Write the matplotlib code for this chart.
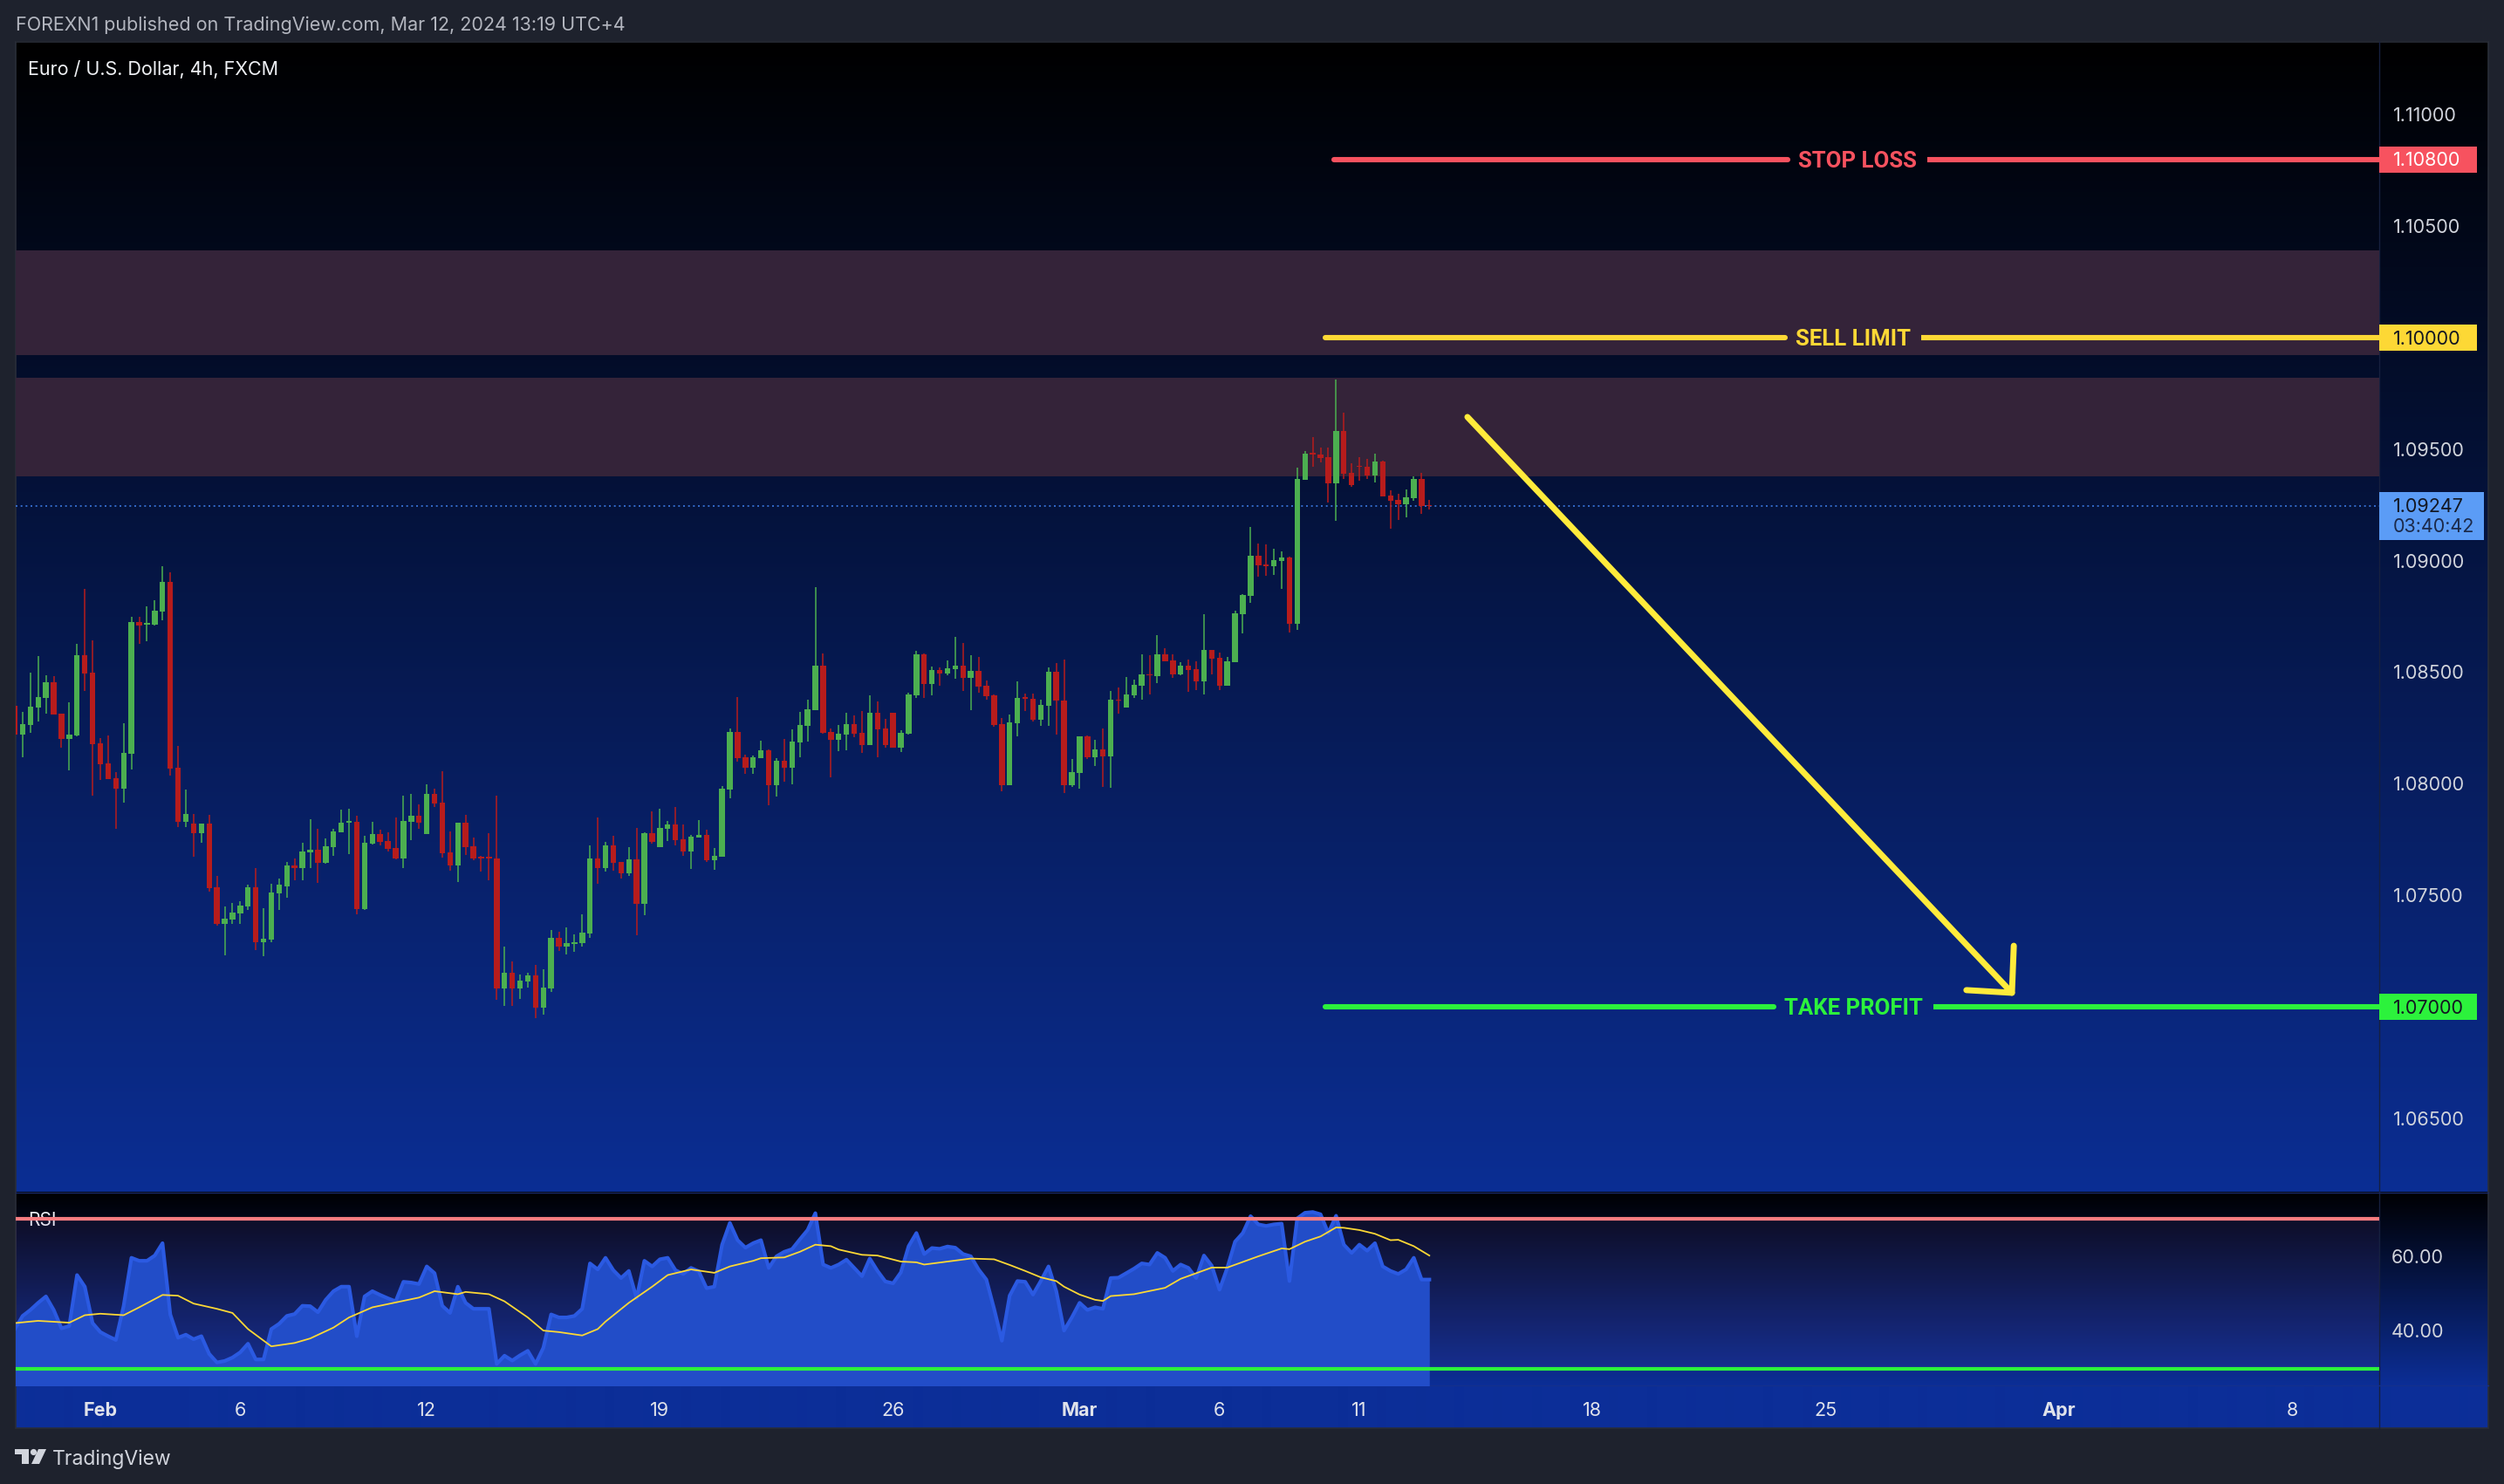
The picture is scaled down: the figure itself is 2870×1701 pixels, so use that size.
import numpy as np
import matplotlib
matplotlib.use('Agg')
import matplotlib.pyplot as plt
from matplotlib.patches import Rectangle, Polygon, Circle
from matplotlib.transforms import blended_transform_factory, offset_copy
from matplotlib import font_manager

# ---------------------------------------------------------------- data
# 4h bars, index 0 = first bar of Feb 1 2024 (weekends skipped, 6 bars/day)
bar_index = list(range(-11, 172))

opens = [
    1.08351, 1.08223, 1.08266, 1.08345, 1.08388, 1.08457, 1.08316, 1.08204, 1.08219, 1.08578, 1.08500,
    1.08183, 1.08093, 1.08026, 1.07981, 1.08137, 1.08727, 1.08716, 1.08715, 1.08774, 1.08907,
    1.08073, 1.07832, 1.07824, 1.07781, 1.07824, 1.07539, 1.07374, 1.07394, 1.07421, 1.07452,
    1.07539, 1.07292, 1.07304, 1.07511, 1.07543, 1.07636, 1.07625, 1.07695, 1.07707, 1.07648,
    1.07719, 1.07785, 1.07828, 1.07832, 1.07441, 1.07734, 1.07777, 1.07746, 1.07715, 1.07668,
    1.07832, 1.07859, 1.07777, 1.07957, 1.07918, 1.07695, 1.07636, 1.07828, 1.07722, 1.07672,
    1.07672, 1.07666, 1.07085, 1.07154, 1.07085, 1.07115, 1.07142, 1.06999, 1.07085, 1.07310,
    1.07271, 1.07283, 1.07287, 1.07330, 1.07666, 1.07623, 1.07725, 1.07651, 1.07600, 1.07662,
    1.07463, 1.07780, 1.07717, 1.07800, 1.07819, 1.07752, 1.07698, 1.07760, 1.07771, 1.07659,
    1.07674, 1.07975, 1.08234, 1.08120, 1.08075, 1.08117, 1.08152, 1.07996, 1.08104, 1.08075,
    1.08188, 1.08262, 1.08333, 1.08530, 1.08234, 1.08200, 1.08223, 1.08268, 1.08230, 1.08173,
    1.08319, 1.08249, 1.08319, 1.08165, 1.08225, 1.08397, 1.08581, 1.08450, 1.08511, 1.08497,
    1.08517, 1.08530, 1.08478, 1.08508, 1.08441, 1.08397, 1.08268, 1.07996, 1.08273, 1.08387,
    1.08382, 1.08288, 1.08352, 1.08503, 1.08376, 1.07996, 1.08050, 1.08214, 1.08120, 1.08155,
    1.08125, 1.08378, 1.08345, 1.08397, 1.08442, 1.08491, 1.08485, 1.08581, 1.08554, 1.08493,
    1.08530, 1.08516, 1.08462, 1.08601, 1.08566, 1.08439, 1.08548, 1.08762, 1.08845, 1.09024,
    1.08986, 1.08978, 1.09002, 1.09016, 1.08720, 1.09364, 1.09482, 1.09478, 1.09466, 1.09349,
    1.09583, 1.09396, 1.09427, 1.09423, 1.09384, 1.09446, 1.09294, 1.09274, 1.09255, 1.09282,
    1.09368, 1.09248,
]
highs = [
    1.08370, 1.08324, 1.08500, 1.08574, 1.08488, 1.08484, 1.08316, 1.08367, 1.08629, 1.08875, 1.08644,
    1.08206, 1.08218, 1.08054, 1.08273, 1.08750, 1.08750, 1.08797, 1.08824, 1.08977, 1.08950,
    1.08171, 1.07975, 1.07866, 1.07824, 1.07863, 1.07588, 1.07452, 1.07468, 1.07476, 1.07547,
    1.07625, 1.07445, 1.07554, 1.07578, 1.07652, 1.07668, 1.07738, 1.07844, 1.07801, 1.07758,
    1.07801, 1.07887, 1.07891, 1.07859, 1.07769, 1.07832, 1.07797, 1.07785, 1.07852, 1.07949,
    1.07957, 1.07910, 1.08000, 1.07981, 1.08059, 1.07789, 1.07828, 1.07863, 1.07762, 1.07680,
    1.07781, 1.07949, 1.07271, 1.07205, 1.07146, 1.07154, 1.07189, 1.07170, 1.07345, 1.07338,
    1.07357, 1.07326, 1.07416, 1.07725, 1.07850, 1.07741, 1.07768, 1.07651, 1.07717, 1.07803,
    1.07783, 1.07878, 1.07890, 1.07833, 1.07897, 1.07818, 1.07770, 1.07839, 1.07794, 1.07713,
    1.07990, 1.08249, 1.08390, 1.08132, 1.08128, 1.08195, 1.08156, 1.08116, 1.08203, 1.08246,
    1.08324, 1.08378, 1.08882, 1.08586, 1.08249, 1.08265, 1.08318, 1.08307, 1.08327, 1.08397,
    1.08370, 1.08294, 1.08319, 1.08242, 1.08408, 1.08598, 1.08587, 1.08528, 1.08522, 1.08556,
    1.08661, 1.08632, 1.08578, 1.08569, 1.08465, 1.08402, 1.08297, 1.08312, 1.08460, 1.08406,
    1.08406, 1.08378, 1.08523, 1.08542, 1.08559, 1.08113, 1.08214, 1.08217, 1.08198, 1.08249,
    1.08418, 1.08433, 1.08480, 1.08468, 1.08581, 1.08578, 1.08668, 1.08610, 1.08581, 1.08547,
    1.08559, 1.08549, 1.08761, 1.08601, 1.08589, 1.08569, 1.08776, 1.08852, 1.09153, 1.09079,
    1.09075, 1.09055, 1.09044, 1.09020, 1.09419, 1.09493, 1.09556, 1.09509, 1.09509, 1.09814,
    1.09666, 1.09439, 1.09466, 1.09458, 1.09482, 1.09450, 1.09317, 1.09302, 1.09321, 1.09380,
    1.09396, 1.09274,
]
lows = [
    1.08200, 1.08121, 1.08230, 1.08282, 1.08317, 1.08313, 1.08165, 1.08063, 1.08214, 1.08419, 1.07949,
    1.08020, 1.08024, 1.07801, 1.07918, 1.08067, 1.08630, 1.08641, 1.08711, 1.08734, 1.08039,
    1.07809, 1.07809, 1.07676, 1.07738, 1.07519, 1.07367, 1.07233, 1.07371, 1.07374, 1.07437,
    1.07257, 1.07230, 1.07292, 1.07437, 1.07492, 1.07570, 1.07570, 1.07625, 1.07558, 1.07644,
    1.07680, 1.07785, 1.07687, 1.07417, 1.07437, 1.07730, 1.07726, 1.07699, 1.07664, 1.07625,
    1.07750, 1.07801, 1.07777, 1.07898, 1.07672, 1.07613, 1.07562, 1.07683, 1.07660, 1.07609,
    1.07570, 1.07034, 1.07006, 1.07006, 1.07038, 1.07089, 1.06952, 1.06967, 1.07069, 1.07252,
    1.07236, 1.07248, 1.07271, 1.07310, 1.07553, 1.07608, 1.07612, 1.07576, 1.07588, 1.07322,
    1.07412, 1.07731, 1.07717, 1.07743, 1.07725, 1.07680, 1.07619, 1.07760, 1.07650, 1.07616,
    1.07674, 1.07936, 1.08102, 1.08047, 1.08047, 1.08117, 1.07903, 1.07944, 1.08012, 1.08000,
    1.08122, 1.08192, 1.08333, 1.08225, 1.08032, 1.08149, 1.08152, 1.08212, 1.08141, 1.08173,
    1.08122, 1.08165, 1.08165, 1.08144, 1.08222, 1.08387, 1.08388, 1.08399, 1.08439, 1.08486,
    1.08474, 1.08418, 1.08331, 1.08409, 1.08379, 1.08258, 1.07967, 1.07996, 1.08215, 1.08327,
    1.08280, 1.08262, 1.08262, 1.08222, 1.07960, 1.07987, 1.07979, 1.08114, 1.08081, 1.07987,
    1.07982, 1.08316, 1.08345, 1.08388, 1.08379, 1.08403, 1.08454, 1.08550, 1.08477, 1.08486,
    1.08414, 1.08423, 1.08403, 1.08493, 1.08423, 1.08439, 1.08548, 1.08677, 1.08813, 1.08931,
    1.08935, 1.08938, 1.08875, 1.08681, 1.08693, 1.09364, 1.09424, 1.09443, 1.09263, 1.09180,
    1.09368, 1.09333, 1.09360, 1.09368, 1.09353, 1.09290, 1.09145, 1.09184, 1.09196, 1.09270,
    1.09212, 1.09231,
]
closes = [
    1.08223, 1.08269, 1.08347, 1.08390, 1.08457, 1.08313, 1.08204, 1.08222, 1.08578, 1.08497, 1.08180,
    1.08090, 1.08024, 1.07981, 1.08140, 1.08727, 1.08711, 1.08719, 1.08777, 1.08907, 1.08071,
    1.07832, 1.07866, 1.07781, 1.07824, 1.07535, 1.07374, 1.07398, 1.07425, 1.07456, 1.07539,
    1.07292, 1.07308, 1.07515, 1.07547, 1.07636, 1.07625, 1.07699, 1.07707, 1.07648, 1.07722,
    1.07789, 1.07828, 1.07832, 1.07441, 1.07738, 1.07777, 1.07742, 1.07711, 1.07668, 1.07836,
    1.07859, 1.07828, 1.07957, 1.07914, 1.07691, 1.07636, 1.07828, 1.07719, 1.07668, 1.07668,
    1.07668, 1.07085, 1.07154, 1.07085, 1.07119, 1.07142, 1.06999, 1.07087, 1.07310, 1.07271,
    1.07287, 1.07291, 1.07334, 1.07666, 1.07623, 1.07725, 1.07647, 1.07600, 1.07662, 1.07463,
    1.07780, 1.07741, 1.07803, 1.07819, 1.07750, 1.07698, 1.07765, 1.07771, 1.07659, 1.07678,
    1.07979, 1.08234, 1.08117, 1.08075, 1.08120, 1.08152, 1.07996, 1.08104, 1.08075, 1.08191,
    1.08265, 1.08336, 1.08530, 1.08230, 1.08200, 1.08225, 1.08268, 1.08227, 1.08173, 1.08319,
    1.08247, 1.08173, 1.08165, 1.08230, 1.08402, 1.08581, 1.08450, 1.08511, 1.08497, 1.08520,
    1.08530, 1.08478, 1.08508, 1.08438, 1.08394, 1.08265, 1.07996, 1.08276, 1.08387, 1.08384,
    1.08288, 1.08355, 1.08503, 1.08376, 1.07996, 1.08053, 1.08214, 1.08120, 1.08155, 1.08125,
    1.08378, 1.08375, 1.08402, 1.08445, 1.08491, 1.08487, 1.08581, 1.08550, 1.08493, 1.08530,
    1.08513, 1.08462, 1.08601, 1.08563, 1.08439, 1.08550, 1.08765, 1.08848, 1.09024, 1.08981,
    1.08978, 1.09004, 1.09016, 1.08720, 1.09368, 1.09482, 1.09479, 1.09462, 1.09349, 1.09583,
    1.09392, 1.09341, 1.09423, 1.09384, 1.09446, 1.09290, 1.09270, 1.09255, 1.09286, 1.09368,
    1.09246, 1.09247,
]

rsi_values = [
    40.6, 44.1, 45.7, 47.6, 49.3, 45.7, 40.8, 41.4, 55.0, 51.9, 42.2,
    39.8, 38.7, 37.7, 46.8, 59.6, 58.8, 58.8, 60.2, 63.5, 44.5,
    38.3, 39.1, 37.9, 38.7, 34.0, 31.7, 32.1, 33.0, 34.4, 36.7,
    32.5, 32.5, 40.6, 42.0, 44.1, 44.6, 46.8, 46.7, 45.1, 48.4,
    50.7, 51.9, 51.9, 38.7, 49.3, 50.7, 49.7, 48.8, 48.0, 53.2,
    53.0, 52.6, 57.3, 55.5, 46.8, 44.9, 51.9, 47.6, 46.0, 46.0,
    46.0, 31.3, 33.5, 32.2, 33.6, 34.8, 31.3, 35.6, 44.5, 43.7,
    43.7, 44.1, 46.0, 58.1, 56.5, 59.6, 56.3, 54.2, 56.1, 48.8,
    58.8, 57.3, 59.2, 59.6, 56.3, 55.3, 56.9, 56.0, 51.5, 51.9,
    63.1, 68.9, 64.3, 62.3, 63.5, 64.3, 56.9, 60.0, 61.2, 61.9,
    64.5, 67.0, 71.5, 57.8, 56.9, 57.8, 59.1, 56.9, 54.7, 59.4,
    56.1, 53.3, 52.8, 55.7, 62.7, 66.2, 60.6, 62.2, 62.0, 62.6,
    62.3, 60.6, 60.0, 56.5, 53.8, 46.0, 37.5, 49.5, 53.4, 53.2,
    49.8, 53.4, 57.3, 50.7, 40.2, 43.7, 47.6, 45.7, 46.4, 46.0,
    54.2, 54.3, 55.5, 56.7, 58.1, 57.8, 60.9, 59.6, 56.1, 57.8,
    56.9, 54.2, 60.2, 57.5, 51.1, 56.9, 63.9, 66.2, 70.7, 68.5,
    68.1, 68.5, 68.7, 53.4, 70.1, 71.6, 71.8, 71.2, 66.2, 70.8,
    63.1, 60.9, 63.1, 61.5, 63.5, 57.3, 56.1, 55.3, 56.5, 59.6,
    53.8, 53.8,
]

rsi_ma_index = [-11, -8, -4, -2, 0, 3, 5, 8, 10, 12, 15, 17, 19, 22, 25, 27, 30, 32, 35,
                38, 41, 43, 46, 47, 50, 52, 55, 57, 59, 62, 64, 65, 68, 71, 73, 76, 79,
                81, 84, 85, 88, 90, 92, 94, 95, 98, 100, 103, 105, 106, 109, 112, 115,
                117, 119, 121, 123, 124, 126, 128, 129, 130, 133, 137, 139, 141, 143,
                145, 149, 152, 153, 155, 157, 159, 160, 162, 164, 166, 167, 169, 171]
rsi_ma_values = [42.2, 42.8, 42.3, 44.3, 44.7, 44.3, 46.4, 49.7, 49.5, 47.4, 46.0, 44.9,
                 40.6, 36.0, 36.9, 38.1, 41.0, 43.7, 46.4, 47.7, 49.0, 50.7, 49.9, 50.5,
                 49.9, 48.0, 43.7, 40.2, 39.8, 38.9, 40.6, 42.6, 47.6, 51.9, 55.0, 56.5,
                 55.6, 57.3, 58.8, 59.5, 59.7, 61.2, 63.1, 62.7, 61.8, 60.4, 60.2, 58.6,
                 58.4, 57.8, 58.6, 59.4, 59.2, 57.7, 56.1, 54.4, 53.4, 51.9, 49.8, 48.4,
                 48.1, 49.4, 49.9, 51.6, 54.0, 55.5, 57.0, 57.0, 60.0, 62.1, 61.9, 63.9,
                 65.3, 67.7, 67.6, 67.0, 66.0, 64.3, 64.4, 62.7, 60.2]

date_tick_index = [0, 18, 42, 72, 102, 126, 144, 162, 192, 222, 252, 282]
date_tick_labels = ['Feb', '6', '12', '19', '26', 'Mar', '6', '11', '18', '25', 'Apr', '8']
month_labels = ['Feb', 'Mar', 'Apr']

price_ticks = [1.065, 1.075, 1.080, 1.085, 1.090, 1.095, 1.105, 1.110]
rsi_ticks = [40, 60]
rsi_bands = [70, 30]

zones = [(1.09924, 1.10393), (1.09380, 1.09822)]
order_names = ['STOP LOSS', 'SELL LIMIT', 'TAKE PROFIT']
order_prices = [1.108, 1.100, 1.070]
last_price = 1.09247
countdown = '03:40:42'

header = 'FOREXN1 published on TradingView.com, Mar 12, 2024 13:19 UTC+4'
title = 'Euro / U.S. Dollar, 4h, FXCM'

# ---------------------------------------------------------------- style
names = {f.name for f in font_manager.fontManager.ttflist}
FONT = ['Inter', 'DejaVu Sans'] if 'Inter' in names else ['DejaVu Sans']
LBLFONT = 'Roboto' if 'Roboto' in names else 'DejaVu Sans'
plt.rcParams['font.family'] = FONT

W, H = 2870, 1701
PL, PR, PANEL_R = 18, 2727, 2852
MAIN_T, MAIN_B, RSI_B, PANEL_B = 48, 1367, 1588, 1637
XMIN, XMAX = -10.89, 293.22
PMIN, PMAX = 1.06168, 1.11328
RMIN, RMAX = 25.58, 76.98

GREEN, RED = '#4caf50', '#b71c1c'
TXT = '#d1d4dc'
order_colors = ['#f7525f', '#fdd835', '#2cf23c']
order_box_text = ['white', '#131722', '#131722']

fig = plt.figure(figsize=(W / 100, H / 100), dpi=100)
fig.patch.set_facecolor('#1e222d')

bg = fig.add_axes([0, 0, 1, 1])
bg.axis('off')


def vgrad(x0, x1, y0, y1, c0, c1):
    n = int(y1 - y0)
    t = np.linspace(0, 1, n)[:, None]
    c0 = np.array(c0) / 255.0
    c1 = np.array(c1) / 255.0
    arr = (c0 + (c1 - c0) * t)[:, None, :]
    bg.imshow(arr, extent=(x0, x1, y1, y0), aspect='auto', interpolation='bilinear', zorder=0)


vgrad(PL, PANEL_R, MAIN_T, MAIN_B, (0, 0, 0), (11, 46, 148))
vgrad(PL, PANEL_R, MAIN_B, RSI_B, (0, 0, 2), (12, 46, 150))
vgrad(PL, PANEL_R, RSI_B, PANEL_B, (12, 46, 152), (12, 46, 152))
bg.set_xlim(0, W)
bg.set_ylim(H, 0)

bg.add_patch(Rectangle((PL, MAIN_T), PANEL_R - PL, PANEL_B - MAIN_T, fill=False,
                       edgecolor='#2a2e39', lw=1.2, zorder=2))
bg.plot([PR, PR], [MAIN_T, PANEL_B], color='#16203f', lw=1, zorder=2)
bg.plot([PL, PANEL_R], [MAIN_B, MAIN_B], color='#1b2a66', lw=1, zorder=2)
bg.plot([PL, PANEL_R], [RSI_B, RSI_B], color='#14308c', lw=1, zorder=2)

bg.text(PL, 29, header, color='#b2b5be', fontsize=15.5, va='center', ha='left')
bg.text(32, 79, title, color='#eef0f4', fontsize=15.5, va='center', ha='left', zorder=5)
bg.text(32, 1399, 'RSI', color='#eef0f4', fontsize=15, va='center', ha='left', zorder=5)

# TradingView logo
lc = '#d1d4dc'
bg.add_patch(Rectangle((17, 1661), 16, 6, color=lc, lw=0))
bg.add_patch(Rectangle((25, 1661), 8, 17, color=lc, lw=0))
bg.add_patch(Circle((38.5, 1664.5), 3.6, color=lc, lw=0))
bg.add_patch(Polygon([(44, 1661), (53, 1661), (45, 1678), (36, 1678)], color=lc, lw=0))
bg.text(60, 1673, 'TradingView', color=lc, fontsize=16.5, va='center', ha='left')


def frac_rect(x0, y0, x1, y1):
    return [x0 / W, 1 - y1 / H, (x1 - x0) / W, (y1 - y0) / H]


# ---------------------------------------------------------------- main pane
ax = fig.add_axes(frac_rect(PL, MAIN_T, PR, MAIN_B))
ax.set_facecolor('none')
ax.set_xlim(XMIN, XMAX)
ax.set_ylim(PMIN, PMAX)
for s in ax.spines.values():
    s.set_visible(False)
ax.set_xticks([])
ax.set_yticks([])

for lo, hi in zones:
    ax.axhspan(lo, hi, color='#342339', lw=0, zorder=1)

x = np.array(bar_index, dtype=float)
o, h, l, c = (np.array(v) for v in (opens, highs, lows, closes))
up = c > o
cols = np.where(up, GREEN, RED)
ax.vlines(x, l, h, colors=cols, lw=1.1, zorder=3)
body = np.maximum(np.abs(c - o), 0.00005)
ax.bar(x, body, bottom=np.minimum(o, c), width=0.72, color=cols, lw=0, zorder=4)

ax.axhline(last_price, color='#3b78e0', lw=1.2, ls=(0, (1.2, 2.2)), zorder=2)

txt_down = offset_copy(ax.transData, fig=fig, x=0, y=-2, units='dots')
line_starts = [158.7, 157.6, 157.6]
gaps = [(217.1, 235.1), (216.8, 234.3), (215.3, 235.9)]
for name, price, colr, x0, (g0, g1) in zip(order_names, order_prices, order_colors, line_starts, gaps):
    ax.plot([x0, g0], [price, price], color=colr, lw=4.4, solid_capstyle='round', zorder=6)
    ax.plot([g1, XMAX + 5], [price, price], color=colr, lw=4.4, solid_capstyle='butt', zorder=6)
    ax.text((g0 + g1) / 2, price, name, color=colr, ha='center', va='center',
            fontsize=18.5, fontweight='bold', family=LBLFONT, zorder=7, transform=txt_down)

# arrow
AY = '#ffeb3b'
ax.plot([175.9, 245.96], [1.09646, 1.07064], color=AY, lw=5, solid_capstyle='round', zorder=8)
ax.plot([246.2, 245.96, 240.1], [1.07275, 1.07064, 1.07076], color=AY, lw=5,
        solid_capstyle='round', solid_joinstyle='round', zorder=8)

# price axis
trp = blended_transform_factory(ax.transAxes, ax.transData)
trp_t = offset_copy(trp, fig=fig, x=0, y=-1.5, units='dots')
LX = (2743 - PL) / (PR - PL)
BOXW = (2839 - PR) / (PR - PL)
for p in price_ticks:
    ax.text(LX, p, f'{p:.5f}', transform=trp_t, ha='left', va='center', fontsize=15.5,
            color=TXT, clip_on=False)
half = 15 / 25560
for price, colr, tc in zip(order_prices, order_colors, order_box_text):
    ax.add_patch(Rectangle((1.0, price - half), BOXW, 2 * half, transform=trp, color=colr,
                           lw=0, clip_on=False, zorder=9))
    ax.text(LX, price, f'{price:.5f}', transform=trp_t, ha='left', va='center', fontsize=15.5,
            color=tc, clip_on=False, zorder=10)
ax.add_patch(Rectangle((1.0, last_price - 39 / 25560), (2847 - PR) / (PR - PL), 55 / 25560,
                       transform=trp, color='#5b9cf6', lw=0, clip_on=False, zorder=9))
ax.text(LX, last_price, f'{last_price:.5f}', transform=trp_t, ha='left', va='center',
        fontsize=15.5, color='#131722', clip_on=False, zorder=10)
ax.text(LX, last_price - 23 / 25560, countdown, transform=trp_t, ha='left', va='center',
        fontsize=15.5, color='#1c2a4a', clip_on=False, zorder=10)

# ---------------------------------------------------------------- RSI pane
axr = fig.add_axes(frac_rect(PL, MAIN_B, PR, RSI_B))
axr.set_facecolor('none')
axr.set_xlim(XMIN, XMAX)
axr.set_ylim(RMIN, RMAX)
for s in axr.spines.values():
    s.set_visible(False)
axr.set_xticks([])
axr.set_yticks([])

axr.axhspan(rsi_bands[1], rsi_bands[0], color='#7e57c2', alpha=0.1, lw=0, zorder=1)
axr.fill_between(x, rsi_values, 0, color='#224dc8', lw=0, zorder=2)
axr.plot(x, rsi_values, color='#2b5ae2', lw=3, zorder=3, solid_joinstyle='round')
axr.axhline(rsi_bands[0], color='#f77c80', lw=3, zorder=4)
axr.axhline(rsi_bands[1], color='#2cf23c', lw=3, zorder=4)
axr.plot(rsi_ma_index, rsi_ma_values, color='#fdd835', lw=1.3, zorder=5)

trr = offset_copy(blended_transform_factory(axr.transAxes, axr.transData), fig=fig,
                  x=0, y=-1.5, units='dots')
RLX = (2741 - PL) / (PR - PL)
for v in rsi_ticks:
    axr.text(RLX, v, f'{v:.2f}', transform=trr, ha='left', va='center', fontsize=15.5,
             color=TXT, clip_on=False)

trx = blended_transform_factory(axr.transData, axr.transAxes)
ty = -(1617 - RSI_B) / (RSI_B - MAIN_B)
for xi, lab in zip(date_tick_index, date_tick_labels):
    axr.text(xi, ty, lab, transform=trx, ha='center', va='center', fontsize=15.5,
             color='#e0e3eb', fontweight='bold' if lab in month_labels else 'normal',
             clip_on=False)

fig.savefig('out.png', dpi=100, facecolor=fig.get_facecolor())
